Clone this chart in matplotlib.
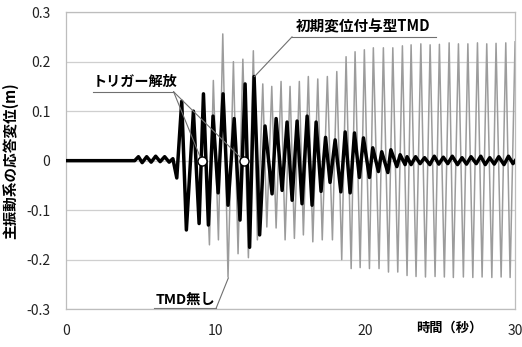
import numpy as np
import matplotlib
matplotlib.use("Agg")
import matplotlib.pyplot as plt

plt.rcParams['font.family'] = ['Noto Sans CJK JP', 'DejaVu Sans']

# 初期変位付与型TMD : peaks / troughs (time s, disp m)
tmd_t = [0.0, 4.6, 4.85, 5.1, 5.4, 5.7, 6.0, 6.3, 6.6, 6.9, 7.15, 7.41,
         7.74, 8.05, 8.52, 8.9, 9.19, 9.52, 9.83, 10.17, 10.5, 10.83, 11.24,
         11.63, 11.97, 12.27, 12.57, 12.94, 13.3, 13.77, 14.04, 14.44, 14.77,
         15.11, 15.44, 15.77, 16.11, 16.44, 16.71, 17.04, 17.34, 17.64, 17.98,
         18.36, 18.65, 18.98, 19.27, 19.6, 19.87, 20.27, 20.49, 20.87, 21.09,
         21.5, 21.7, 22.1, 22.32, 22.65, 22.78, 23.05, 23.35, 23.65, 23.95,
         24.3, 24.6, 24.9, 25.2, 25.5, 25.8, 26.15, 26.45, 26.75, 27.05, 27.4,
         27.7, 28.0, 28.3, 28.6, 28.9, 29.25, 29.55, 29.85, 30.0]
tmd_v = [0.0, 0.0, 0.008, -0.004, 0.008, -0.003, 0.009, -0.002, 0.008, -0.003,
         0.004, -0.035,
         0.12, -0.14, 0.10, -0.127, 0.135, -0.13, 0.09, -0.065, 0.135, -0.09,
         0.085, -0.12, 0.155, -0.175, 0.17, -0.15, 0.07, -0.067, 0.085, -0.06,
         0.078, -0.08, 0.08, -0.087, 0.09, -0.09, 0.078, -0.062, 0.047, -0.044,
         0.042, -0.063, 0.058, -0.065, 0.056, -0.034, 0.046, -0.034, 0.026,
         -0.022, 0.018, -0.024, 0.022, -0.012, 0.012, -0.008, 0.008, -0.008,
         0.008, -0.006, 0.006, -0.008, 0.009, -0.007, 0.007, -0.006, 0.009,
         -0.008, 0.006, -0.007, 0.008, -0.006, 0.009, -0.008, 0.006, -0.007,
         0.008, -0.008, 0.009, -0.006, 0.0]

# TMD無し : same as above up to the first release, then these extrema
none_t = [9.59, 9.85, 10.19, 10.48, 10.83, 11.19, 11.5, 11.82, 12.19, 12.52,
          12.79, 13.15, 13.42, 13.75, 14.04, 14.37, 14.64, 14.97, 15.26, 15.59,
          15.86, 16.19, 16.49, 16.82, 17.12, 17.46, 17.8, 18.09, 18.42, 18.71,
          19.05, 19.31, 19.65, 19.93, 20.27, 20.53, 20.91, 21.2, 21.54, 21.83,
          22.16, 22.47, 22.78, 23.05, 23.38, 23.7, 24.01, 24.32, 24.65, 24.94,
          25.27, 25.59, 25.87, 26.21, 26.54, 26.84, 27.17, 27.48, 27.79, 28.1,
          28.44, 28.72, 29.06, 29.37, 29.66, 29.99]
none_v = [-0.17, 0.162, -0.16, 0.256, -0.235, 0.2, -0.188, 0.205, -0.196, 0.222,
          -0.16, 0.155, -0.134, 0.15, -0.136, 0.16, -0.16, 0.15, -0.157, 0.16,
          -0.15, 0.17, -0.164, 0.165, -0.16, 0.17, -0.16, 0.18, -0.2, 0.21,
          -0.218, 0.22, -0.216, 0.224, -0.218, 0.228, -0.218, 0.228, -0.225,
          0.228, -0.225, 0.232, -0.232, 0.234, -0.234, 0.236, -0.235, 0.234,
          -0.234, 0.235, -0.235, 0.238, -0.236, 0.236, -0.235, 0.236, -0.236,
          0.238, -0.235, 0.236, -0.236, 0.237, -0.235, 0.238, -0.236, 0.24]

release_t = [9.07, 11.88]
release_split = 9.19

yticks = [-0.3, -0.2, -0.1, 0, 0.1, 0.2, 0.3]
ytick_labels = ['-0.3', '-0.2', '-0.1', '0', '0.1', '0.2', '0.3']
xticks = [0, 10, 20, 30]

tmd_t = np.array(tmd_t)
tmd_v = np.array(tmd_v)
shared = tmd_t <= release_split
gray_t = np.concatenate([tmd_t[shared], none_t])
gray_v = np.concatenate([tmd_v[shared], none_v])

fig = plt.figure(figsize=(5.22, 3.47), dpi=100)
ax = fig.add_axes([0.126, 0.109, 0.861, 0.856])

ax.plot(gray_t, gray_v, color='#9c9c9c', lw=1.1, zorder=2)
ax.plot(tmd_t, tmd_v, color='black', lw=2.5, solid_joinstyle='round', zorder=3)
ax.plot(release_t, [0] * len(release_t), 'o', ms=6.5, mfc='white', mec='black',
        mew=1.0, zorder=5)

ax.set_xlim(0, 30)
ax.set_ylim(-0.3, 0.3)
ax.set_yticks(yticks)
ax.set_yticklabels(ytick_labels)
ax.set_xticks(xticks)
ax.grid(axis='y', color='#cfcfcf', lw=0.9)
ax.set_axisbelow(True)
ax.tick_params(length=0, labelsize=10, colors='#222222')
ax.tick_params(axis='y', pad=11)
ax.tick_params(axis='x', pad=11)
for s in ax.spines.values():
    s.set_color('#bdbdbd')
    s.set_linewidth(0.9)

ax.set_ylabel('主振動系の応答変位(m)', fontsize=10.5, fontweight='bold')
ax.yaxis.set_label_coords(-0.106, 0.5)
ax.text(25.6, -0.337, '時間（秒）', fontsize=9.5, fontweight='bold', ha='center',
        va='center', clip_on=False)

# annotations
lc = '#707070'
ax.text(4.6, 0.16, 'トリガー解放', fontsize=10.2, fontweight='bold', ha='center',
        va='center')
ax.plot([1.8, 7.2], [0.139, 0.139], color=lc, lw=0.8)
for rt in release_t:
    ax.plot([7.2, rt], [0.139, 0], color=lc, lw=0.8, zorder=4)

ax.text(19.85, 0.272, '初期変位付与型TMD', fontsize=10.5, fontweight='bold',
        ha='center', va='center')
ax.plot([15.1, 24.7], [0.25, 0.25], color=lc, lw=0.8)
ax.plot([15.1, 12.6], [0.25, 0.17], color=lc, lw=0.8, zorder=4)

ax.text(7.96, -0.281, 'TMD無し', fontsize=10.3, fontweight='bold', ha='center',
        va='center')
ax.plot([5.9, 10.05], [-0.297, -0.297], color=lc, lw=0.8, clip_on=False)
ax.plot([10.05, 10.85], [-0.297, -0.237], color=lc, lw=0.8, zorder=4)

fig.savefig('out.png', dpi=100)
